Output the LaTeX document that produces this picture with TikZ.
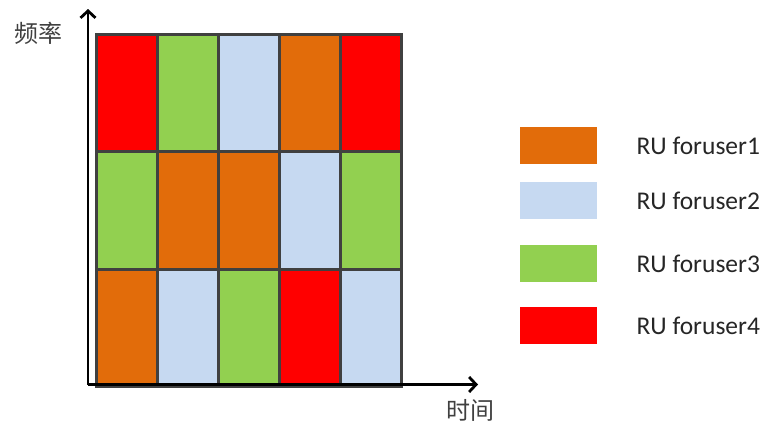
\documentclass[tikz,border=0pt]{standalone}
\usepackage{fontspec}
\setmainfont{Carlito}
\newfontfamily\cjk{Noto Sans CJK SC}
\usetikzlibrary{arrows.meta}
\definecolor{uone}{RGB}{226,108,10}
\definecolor{utwo}{RGB}{198,217,241}
\definecolor{uthree}{RGB}{146,208,80}
\definecolor{ufour}{RGB}{255,0,0}
\definecolor{gridline}{RGB}{64,64,64}
\begin{document}
\begin{tikzpicture}[x=1pt,y=-1pt,
  cell/.style={draw=gridline,line width=3pt,minimum width=61pt,minimum height=117.3pt,inner sep=0pt,anchor=north west},
  key/.style={minimum width=78pt,minimum height=38pt,inner sep=0pt,draw=white,line width=0.6pt},
  keytext/.style={anchor=west,font=\fontsize{25.5}{29}\selectfont,text=black!85},
  axis/.style={line width=2.8pt,-{Straight Barb[length=7pt,width=15pt,line width=2.8pt]}},
  axlabel/.style={font=\cjk\fontsize{24}{28}\selectfont,text=black!75}]
\useasboundingbox (0,0) rectangle (768,423);
% time-frequency grid of resource units
\foreach \r/\row in {0/{ufour,uthree,utwo,uone,ufour},
                     1/{uthree,uone,uone,utwo,uthree},
                     2/{uone,utwo,uthree,ufour,utwo}}{
  \foreach \col [count=\c from 0] in \row {
    \node[cell,fill=\col] (c\r\c) at ({95+61*\c},{33+117.3*\r}) {};
  }
}
% axes
\coordinate (o) at (88,384.5);
\coordinate (ytip) at (88,9);
\coordinate (xtip) at (478,384.5);
\draw[axis] (o) -- (ytip);
\draw[axis] (o) -- (xtip);
\node[axlabel] (ylab) at (38,33) {频率};
\node[axlabel] (xlab) at (470,410) {时间};
% legend
\foreach \i/\col/\y in {1/uone/145.5,2/utwo/200.5,3/uthree/263.5,4/ufour/325.5}{
  \node[key,fill=\col] (k\i) at (558,\y) {};
  \node[keytext] (t\i) at (633,\y) {RU foruser\i};
}
\end{tikzpicture}
\end{document}
